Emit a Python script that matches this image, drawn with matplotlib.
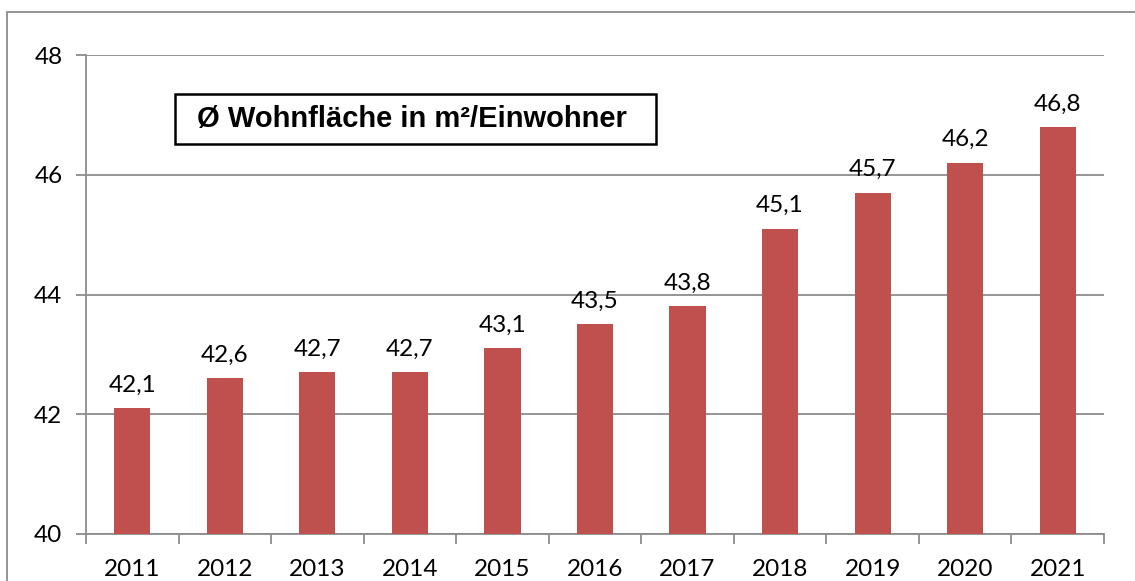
import matplotlib.pyplot as plt
from matplotlib.patches import Rectangle

years = ["2011", "2012", "2013", "2014", "2015", "2016", "2017", "2018", "2019", "2020", "2021"]
wohnflaeche = [42.1, 42.6, 42.7, 42.7, 43.1, 43.5, 43.8, 45.1, 45.7, 46.2, 46.8]
y_ticks = [40, 42, 44, 46, 48]
title_text = "Ø Wohnfläche in m²/Einwohner"

plt.rcParams['font.family'] = ['Lato', 'DejaVu Sans']

fig = plt.figure(figsize=(11.35, 5.81), dpi=100)
ax = fig.add_axes([86 / 1135, 1 - 534 / 581, (1104 - 86) / 1135, (534 - 55) / 581])

grey = '#8c8c8c'
x = list(range(len(years)))
ax.bar(x, [v - 40 for v in wohnflaeche], bottom=40, width=0.39, color='#C0504D', zorder=3)

# value labels above each bar
for xi, v in zip(x, wohnflaeche):
    ax.annotate(f"{v:.1f}".replace('.', ','), (xi, v), xytext=(0, 9), textcoords='offset points',
                ha='center', va='bottom', fontsize=17.5, color='black')

ax.set_xlim(-0.5, len(years) - 0.5)
ax.set_ylim(40, 48)
ax.set_yticks(y_ticks)
ax.set_yticklabels([str(t) for t in y_ticks], fontsize=17.5)
ax.set_xticks(x)
ax.set_xticklabels(years, fontsize=17.5)
ax.tick_params(axis='x', length=0, pad=18)
ax.set_xticks([i - 0.5 for i in range(len(years) + 1)], minor=True)
ax.tick_params(axis='x', which='minor', length=7, color=grey, width=1.3)
ax.tick_params(axis='y', length=7, color=grey, width=1.3, pad=10)
ax.yaxis.grid(True, color=grey, linewidth=1.3, zorder=0)
ax.set_axisbelow(True)
for s in ['top', 'right']:
    ax.spines[s].set_visible(False)
for s in ['left', 'bottom']:
    ax.spines[s].set_color(grey)
    ax.spines[s].set_linewidth(1.3)

# title box inside the plot
ax.add_patch(Rectangle((0.0874, 0.814), 0.4726, 0.1046, transform=ax.transAxes,
                       facecolor='white', edgecolor='black', linewidth=1.8, zorder=4))
ax.text(0.109, 0.866, title_text, transform=ax.transAxes, fontsize=21, fontweight='bold',
        family='Liberation Sans', ha='left', va='center', zorder=5)

# outer chart border (cut off at right/bottom)
fig.patches.append(Rectangle((7 / 1135, -0.1), 1.2, 1 - 12 / 581 + 0.1, transform=fig.transFigure,
                             fill=False, edgecolor=grey, linewidth=1.3))

fig.savefig('out.png', dpi=100)
